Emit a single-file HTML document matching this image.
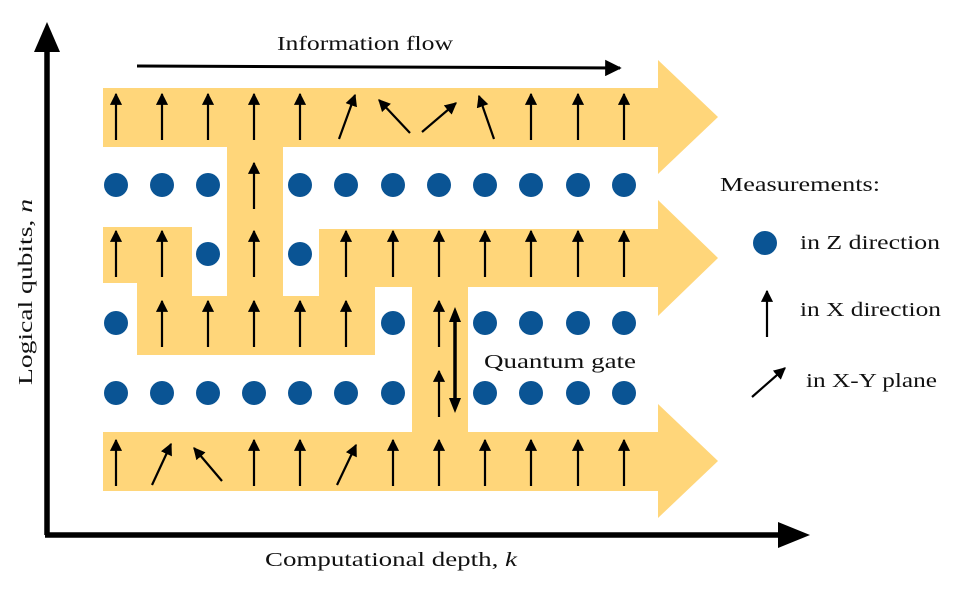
<!DOCTYPE html>
<html><head><meta charset="utf-8"><style>
html,body{margin:0;padding:0;background:#fff;}
svg{display:block;}
text{font-family:"Liberation Serif",serif;fill:#111;}
</style></head><body>
<svg width="972" height="600" viewBox="0 0 972 600" xmlns="http://www.w3.org/2000/svg">
<defs>
<marker id="ah" viewBox="0 0 10 10" refX="9" refY="5" markerWidth="5.5" markerHeight="5.5" orient="auto"><path d="M0,0 L10,5 L0,10 z" fill="#000"/></marker>
</defs>
<g fill="#ffd67a">
<rect x="103" y="88" width="556" height="59"/>
<polygon points="658,60 718,117 658,174"/>
<rect x="227" y="146" width="56" height="151"/>
<rect x="103" y="227" width="89" height="56"/>
<rect x="137" y="227" width="55" height="70"/>
<rect x="137" y="296" width="238" height="59"/>
<rect x="319" y="229" width="340" height="58"/>
<polygon points="658,200 718,258 658,316"/>
<rect x="319" y="229" width="56" height="126"/>
<rect x="412" y="229" width="56" height="204"/>
<rect x="103" y="432" width="556" height="59"/>
<polygon points="658,404 718,461 658,518"/>
</g>
<g fill="#0a5494">
<circle cx="116" cy="185" r="12"/><circle cx="162" cy="185" r="12"/><circle cx="208" cy="185" r="12"/>
<circle cx="300" cy="185" r="12"/><circle cx="346" cy="185" r="12"/><circle cx="393" cy="185" r="12"/><circle cx="439" cy="185" r="12"/><circle cx="485" cy="185" r="12"/><circle cx="531" cy="185" r="12"/><circle cx="578" cy="185" r="12"/><circle cx="624" cy="185" r="12"/>
<circle cx="208" cy="254" r="12"/><circle cx="300" cy="254" r="12"/>
<circle cx="116" cy="323" r="12"/><circle cx="393" cy="323" r="12"/><circle cx="485" cy="323" r="12"/><circle cx="531" cy="323" r="12"/><circle cx="578" cy="323" r="12"/><circle cx="624" cy="323" r="12"/>
<circle cx="116" cy="393" r="12"/><circle cx="162" cy="393" r="12"/><circle cx="208" cy="393" r="12"/><circle cx="254" cy="393" r="12"/><circle cx="300" cy="393" r="12"/><circle cx="346" cy="393" r="12"/><circle cx="393" cy="393" r="12"/>
<circle cx="485" cy="393" r="12"/><circle cx="531" cy="393" r="12"/><circle cx="578" cy="393" r="12"/><circle cx="624" cy="393" r="12"/>
<circle cx="765" cy="243" r="12"/>
</g>
<g stroke="#000" stroke-width="2.2" marker-end="url(#ah)" fill="none">
<line x1="116" y1="140" x2="116" y2="94"/><line x1="162" y1="140" x2="162" y2="94"/><line x1="208" y1="140" x2="208" y2="94"/><line x1="254" y1="140" x2="254" y2="94"/><line x1="300" y1="140" x2="300" y2="94"/>
<line x1="339" y1="139" x2="355" y2="95"/><line x1="410" y1="133" x2="379" y2="100"/><line x1="422" y1="132" x2="456" y2="103"/><line x1="494" y1="139" x2="479" y2="96"/>
<line x1="531" y1="140" x2="531" y2="94"/><line x1="578" y1="140" x2="578" y2="94"/><line x1="624" y1="140" x2="624" y2="94"/>
<line x1="254" y1="209" x2="254" y2="163"/>
<line x1="116" y1="277" x2="116" y2="231"/><line x1="162" y1="277" x2="162" y2="231"/><line x1="254" y1="277" x2="254" y2="231"/>
<line x1="346" y1="277" x2="346" y2="231"/><line x1="393" y1="277" x2="393" y2="231"/><line x1="439" y1="277" x2="439" y2="231"/><line x1="485" y1="277" x2="485" y2="231"/><line x1="531" y1="277" x2="531" y2="231"/><line x1="578" y1="277" x2="578" y2="231"/><line x1="624" y1="277" x2="624" y2="231"/>
<line x1="162" y1="347" x2="162" y2="301"/><line x1="208" y1="347" x2="208" y2="301"/><line x1="254" y1="347" x2="254" y2="301"/><line x1="300" y1="347" x2="300" y2="301"/><line x1="346" y1="347" x2="346" y2="301"/>
<line x1="439" y1="347" x2="439" y2="301"/>
<line x1="439" y1="417" x2="439" y2="371"/>
<line x1="116" y1="486" x2="116" y2="440"/><line x1="152" y1="485" x2="171" y2="444"/><line x1="222" y1="481" x2="194" y2="448"/>
<line x1="254" y1="486" x2="254" y2="440"/><line x1="300" y1="486" x2="300" y2="440"/><line x1="337" y1="485" x2="356" y2="445"/>
<line x1="393" y1="486" x2="393" y2="440"/><line x1="439" y1="486" x2="439" y2="440"/><line x1="485" y1="486" x2="485" y2="440"/><line x1="531" y1="486" x2="531" y2="440"/><line x1="578" y1="486" x2="578" y2="440"/><line x1="624" y1="486" x2="624" y2="440"/>
<line x1="767" y1="337" x2="767" y2="291"/>
<line x1="752" y1="397" x2="785" y2="368"/>
<line x1="137" y1="66" x2="620" y2="68" stroke-width="3"/>
</g>
<line x1="455" y1="318" x2="455" y2="402" stroke="#000" stroke-width="3.5"/>
<polygon points="455,307 449,322 461,322" fill="#000"/>
<polygon points="455,413 449,398 461,398" fill="#000"/>
<line x1="47" y1="535" x2="47" y2="45" stroke="#000" stroke-width="5.5"/>
<polygon points="47,22 34,52 60,52" fill="#000"/>
<line x1="45" y1="535" x2="780" y2="535" stroke="#000" stroke-width="5.5"/>
<polygon points="810,535 778,522 778,548" fill="#000"/>
<text x="277" y="50" font-size="20" textLength="176" lengthAdjust="spacingAndGlyphs">Information flow</text>
<text x="265" y="566" font-size="20" textLength="252" lengthAdjust="spacingAndGlyphs">Computational depth, <tspan font-style="italic">k</tspan></text>
<text transform="translate(32,385) rotate(-90)" font-size="20" textLength="186" lengthAdjust="spacingAndGlyphs">Logical qubits, <tspan font-style="italic">n</tspan></text>
<text x="484" y="368" font-size="20" textLength="152" lengthAdjust="spacingAndGlyphs">Quantum gate</text>
<text x="720" y="191" font-size="20" textLength="160" lengthAdjust="spacingAndGlyphs">Measurements:</text>
<text x="800" y="249" font-size="20" textLength="140" lengthAdjust="spacingAndGlyphs">in Z direction</text>
<text x="800" y="316" font-size="20" textLength="141" lengthAdjust="spacingAndGlyphs">in X direction</text>
<text x="806" y="387" font-size="20" textLength="131" lengthAdjust="spacingAndGlyphs">in X-Y plane</text>
</svg>
</body></html>
